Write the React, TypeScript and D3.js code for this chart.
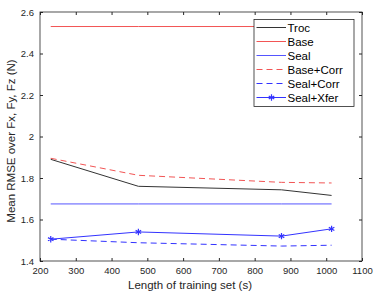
import React, { useEffect, useRef } from "react";
import * as d3 from "d3";

const trainLen = [230, 475, 875, 1015];
const troc = [1.89, 1.76, 1.743, 1.716];
const base = [2.53, 2.53, 2.53, 2.53];
const seal = [1.675, 1.675, 1.675, 1.675];
const baseCorr = [1.895, 1.813, 1.779, 1.776];
const sealCorr = [1.505, 1.488, 1.472, 1.476];
const sealXfer = [1.505, 1.54, 1.52, 1.555];
const xTicks = [200, 300, 400, 500, 600, 700, 800, 900, 1000, 1100];
const yTicks = [1.4, 1.6, 1.8, 2, 2.2, 2.4, 2.6];

const series = [
  { name: "Troc", values: troc, color: "#333333", dash: "", marker: false },
  { name: "Base", values: base, color: "#f25555", dash: "", marker: false },
  { name: "Seal", values: seal, color: "#5555ff", dash: "", marker: false },
  { name: "Base+Corr", values: baseCorr, color: "#f25555", dash: "6,4", marker: false },
  { name: "Seal+Corr", values: sealCorr, color: "#3333ff", dash: "6,4", marker: false },
  { name: "Seal+Xfer", values: sealXfer, color: "#3333ff", dash: "", marker: true },
];

const App: React.FC = () => {
  const svgRef = useRef<SVGSVGElement | null>(null);

  useEffect(() => {
    const width = 374;
    const height = 296;
    const margin = { top: 12, right: 12, bottom: 35, left: 40 };
    const font = "Liberation Sans, Arial, sans-serif";
    const axisColor = "#262626";

    const x = d3.scaleLinear().domain([200, 1100]).range([margin.left, width - margin.right]);
    const y = d3.scaleLinear().domain([1.4, 2.6]).range([height - margin.bottom, margin.top]);

    const svg = d3.select(svgRef.current).attr("width", width).attr("height", height);
    svg.selectAll("*").remove();

    svg.append("rect").attr("width", width).attr("height", height).attr("fill", "white");

    const x0 = margin.left, x1 = width - margin.right;
    const y0 = height - margin.bottom, y1 = margin.top;

    // axes box with inward ticks (matlab style)
    svg
      .append("g")
      .attr("transform", `translate(0,${y0})`)
      .call(d3.axisBottom(x).tickValues(xTicks).tickSize(-3).tickPadding(6).tickFormat(d3.format("d")))
      .call((g) => g.select(".domain").remove())
      .call((g) => g.selectAll("line").attr("stroke", axisColor))
      .call((g) => g.selectAll("text").attr("fill", axisColor).style("font-size", "9.5px").style("font-family", font));

    svg
      .append("g")
      .attr("transform", `translate(0,${y1})`)
      .call(d3.axisTop(x).tickValues(xTicks).tickSize(-3).tickFormat(() => ""))
      .call((g) => g.select(".domain").remove())
      .call((g) => g.selectAll("line").attr("stroke", axisColor));

    svg
      .append("g")
      .attr("transform", `translate(${x0},0)`)
      .call(d3.axisLeft(y).tickValues(yTicks).tickSize(-3).tickPadding(6).tickFormat(d3.format("~g")))
      .call((g) => g.select(".domain").remove())
      .call((g) => g.selectAll("line").attr("stroke", axisColor))
      .call((g) => g.selectAll("text").attr("fill", axisColor).style("font-size", "9.5px").style("font-family", font));

    svg
      .append("g")
      .attr("transform", `translate(${x1},0)`)
      .call(d3.axisRight(y).tickValues(yTicks).tickSize(-3).tickFormat(() => ""))
      .call((g) => g.select(".domain").remove())
      .call((g) => g.selectAll("line").attr("stroke", axisColor));

    svg
      .append("rect")
      .attr("x", x0)
      .attr("y", y1)
      .attr("width", x1 - x0)
      .attr("height", y0 - y1)
      .attr("fill", "none")
      .attr("stroke", axisColor)
      .attr("stroke-width", 0.8);

    const line = d3
      .line<number>()
      .x((_, i) => x(trainLen[i]))
      .y((d) => y(d));

    const star = d3.symbol().type(d3.symbolAsterisk).size(28);

    series.forEach((s) => {
      svg
        .append("path")
        .datum(s.values)
        .attr("fill", "none")
        .attr("stroke", s.color)
        .attr("stroke-width", 1)
        .attr("stroke-dasharray", s.dash || null)
        .attr("d", line);
      if (s.marker) {
        svg
          .selectAll(null)
          .data(s.values)
          .enter()
          .append("path")
          .attr("d", star)
          .attr("transform", (d, i) => `translate(${x(trainLen[i])},${y(d)})`)
          .attr("fill", "none")
          .attr("stroke", s.color)
          .attr("stroke-width", 1.2);
      }
    });

    // legend
    const lx = 254, ly = 19.5, lw = 100, lh = 87;
    const legend = svg.append("g");
    legend
      .append("rect")
      .attr("x", lx)
      .attr("y", ly)
      .attr("width", lw)
      .attr("height", lh)
      .attr("fill", "white")
      .attr("stroke", axisColor)
      .attr("stroke-width", 0.8);
    series.forEach((s, i) => {
      const cy = ly + 8 + i * 14;
      legend
        .append("line")
        .attr("x1", lx + 2.5)
        .attr("x2", lx + 32)
        .attr("y1", cy)
        .attr("y2", cy)
        .attr("stroke", s.color)
        .attr("stroke-width", 1)
        .attr("stroke-dasharray", s.dash || null);
      if (s.marker) {
        legend
          .append("path")
          .attr("d", star)
          .attr("transform", `translate(${lx + 17.5},${cy})`)
          .attr("fill", "none")
          .attr("stroke", s.color)
          .attr("stroke-width", 1.2);
      }
      legend
        .append("text")
        .attr("x", lx + 33.5)
        .attr("y", cy)
        .attr("dy", "0.35em")
        .attr("fill", "#000")
        .style("font-size", "11.5px")
        .style("font-family", font)
        .text(s.name);
    });

    svg
      .append("text")
      .attr("x", 190)
      .attr("y", 289)
      .attr("text-anchor", "middle")
      .attr("fill", axisColor)
      .style("font-size", "11.5px")
      .style("font-family", font)
      .text("Length of training set (s)");

    svg
      .append("text")
      .attr("transform", `translate(15,141) rotate(-90)`)
      .attr("text-anchor", "middle")
      .attr("fill", axisColor)
      .style("font-size", "11.5px")
      .style("font-family", font)
      .text("Mean RMSE over Fx, Fy, Fz (N)");
  }, []);

  return (
    <div style={{ position: "absolute", left: 0, top: 0 }}>
      <svg ref={svgRef} />
    </div>
  );
};

export default App;
